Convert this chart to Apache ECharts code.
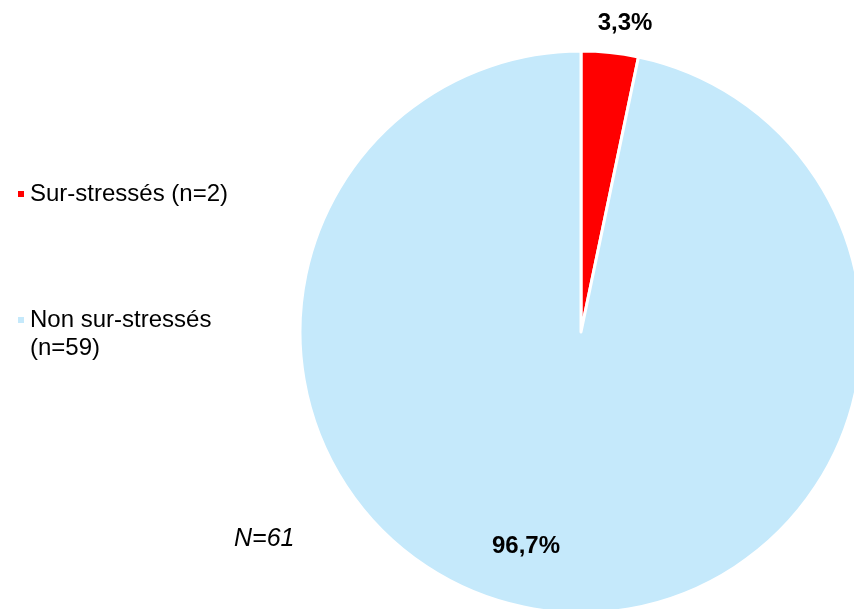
<!DOCTYPE html>
<html>
<head>
<meta charset="utf-8">
<script src="https://cdn.jsdelivr.net/npm/echarts@6/dist/echarts.min.js"></script>
<style>
html,body{margin:0;padding:0;background:#fff;}
#chart{width:854px;height:609px;}
</style>
</head>
<body>
<div id="chart"></div>
<script>
var categories = ['Sur-stressés', 'Non sur-stressés'];
var values = [2, 59];
var legendLabels = ['Sur-stressés (n=2)', 'Non sur-stressés\n(n=59)'];
var totalLabel = 'N=61';
var colors = ['#FF0000', '#C5E9FB'];

var labelPos = [[625, 23], [526, 546]];
var FONT = 'Liberation Sans, Arial, sans-serif';

var chart = echarts.init(document.getElementById('chart'));
var option = {
  animation: false,
  backgroundColor: '#ffffff',
  title: {
    text: totalLabel,
    left: 229,
    top: 522,
    textStyle: { fontFamily: FONT, fontSize: 25, fontStyle: 'italic', fontWeight: 'normal', color: '#000' }
  },
  legend: [
    {
      orient: 'vertical', left: 11, top: 175,
      itemWidth: 8, itemHeight: 8, icon: 'rect',
      data: [categories[0]],
      formatter: function () { return legendLabels[0]; },
      textStyle: { fontFamily: FONT, fontSize: 24, lineHeight: 28, color: '#000' }
    },
    {
      orient: 'vertical', left: 11, top: 273,
      itemWidth: 8, itemHeight: 8, icon: 'rect',
      data: [categories[1]],
      formatter: function () { return '\n' + legendLabels[1]; },
      textStyle: { fontFamily: FONT, fontSize: 24, lineHeight: 28, color: '#000' }
    }
  ],
  series: [{
    type: 'pie',
    center: [581, 332],
    radius: [0, 281],
    startAngle: 90,
    clockwise: true,
    avoidLabelOverlap: false,
    itemStyle: { borderColor: '#ffffff', borderWidth: 3 },
    label: {
      show: true,
      position: 'inside',
      fontFamily: FONT,
      fontSize: 24,
      fontWeight: 'bold',
      color: '#000',
      formatter: function (p) { return p.percent.toFixed(1).replace('.', ',') + '%'; }
    },
    labelLine: { show: false },
    labelLayout: function (p) {
      var pos = labelPos[p.dataIndex];
      return { x: pos[0], y: pos[1], align: 'center', verticalAlign: 'middle' };
    },
    emphasis: { disabled: true },
    data: categories.map(function (c, i) {
      return { name: c, value: values[i], itemStyle: { color: colors[i] } };
    })
  }]
};
chart.setOption(option);
</script>
</body>
</html>
